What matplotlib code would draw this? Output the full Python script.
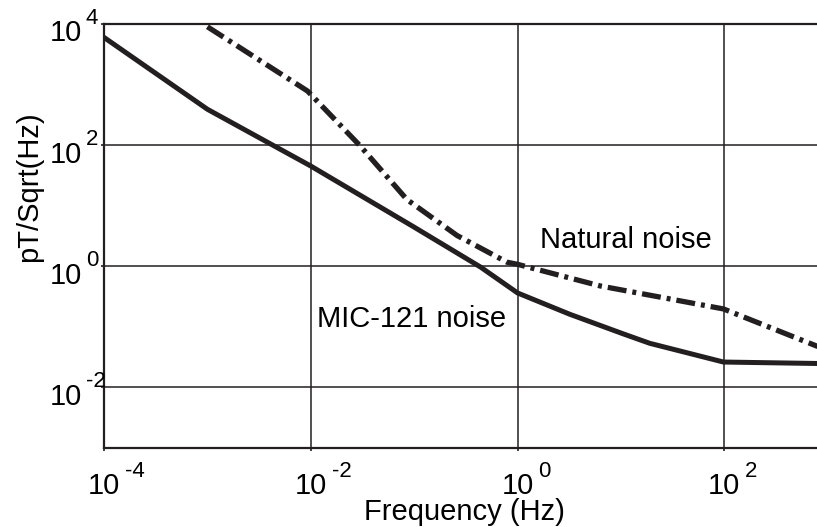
"""Noise spectra of the MIC-121 sensor against natural noise, log-log plot."""
import matplotlib

matplotlib.use("Agg")
import matplotlib.pyplot as plt
import matplotlib.transforms as mtransforms

# data (Hz, pT/sqrt(Hz))
mic_freq = [1e-4, 1e-3, 1e-2, 1e-1, 0.44, 1.0, 3.2, 10.5, 19.0, 98.0, 800.0]
mic_noise = [6000, 390, 45, 4.4, 0.96, 0.36, 0.16, 0.076, 0.053, 0.026, 0.0246]

nat_freq = [1e-3, 9.3e-3, 3.0e-2, 8.5e-2, 0.26, 0.79, 1.0, 6.3, 98.0, 800.0]
nat_noise = [9000, 780, 97, 12.6, 3.2, 1.16, 1.07, 0.47, 0.196, 0.047]

x_ticks = [1e-4, 1e-2, 1e0, 1e2]
x_exponents = ["-4", "-2", "0", "2"]
y_ticks = [1e-2, 1e0, 1e2, 1e4]
y_exponents = ["-2", "0", "2", "4"]


def main():
    ink = "#231f20"
    plt.rcParams["font.family"] = ["Liberation Sans", "DejaVu Sans"]

    fig = plt.figure(figsize=(8.17, 5.27), dpi=100)
    ax = fig.add_axes([0.1273, 0.1505, 0.8727, 0.804])

    ax.plot(mic_freq, mic_noise, color=ink, linewidth=3.6,
            solid_joinstyle="round")
    ax.plot(nat_freq, nat_noise, color=ink, linewidth=3.8,
            linestyle=(0, (3.6, 1.13, 0.75, 1.13)))

    ax.set_xscale("log")
    ax.set_yscale("log")
    ax.set_xlim(1e-4, 10 ** 2.896)
    ax.set_ylim(1e-3, 10 ** 3.957)

    # tick labels: base "10" as tick label, exponent as separate text
    ax.set_xticks(x_ticks)
    ax.set_xticklabels(["10"] * len(x_ticks))
    ax.set_yticks(y_ticks)
    ax.set_yticklabels(["10"] * len(y_ticks))
    ax.minorticks_off()

    ax.grid(True, color=ink, linewidth=1.1)
    ax.set_axisbelow(True)
    for name, spine in ax.spines.items():
        spine.set_color(ink)
        spine.set_linewidth(1.6)
    ax.spines["right"].set_visible(False)

    ax.tick_params(axis="x", length=2, width=1.2, color=ink, pad=15.5,
                   labelsize=21, labelcolor="black")
    ax.tick_params(axis="y", length=2, width=1.2, color=ink, pad=13.7,
                   labelsize=21, labelcolor="black")

    y_shift = mtransforms.ScaledTranslation(0, -6.5 / 100, fig.dpi_scale_trans)
    for lab in ax.get_yticklabels():
        lab.set_transform(lab.get_transform() + y_shift)

    for tick, expo in zip(x_ticks, x_exponents):
        ax.annotate(expo, xy=(tick, 0), xycoords=("data", "axes fraction"),
                    xytext=(15, -21), textcoords="offset points",
                    ha="left", va="baseline", fontsize=16)
    for tick, expo in zip(y_ticks, y_exponents):
        ax.annotate(expo, xy=(0, tick), xycoords=("axes fraction", "data"),
                    xytext=(-13, 0), textcoords="offset points",
                    ha="left", va="baseline", fontsize=16,
                    annotation_clip=False)

    ax.set_xlabel("Frequency (Hz)", fontsize=21)
    ax.xaxis.set_label_coords(0.505, -0.118)
    ax.set_ylabel("pT/Sqrt(Hz)", fontsize=21)
    ax.yaxis.set_label_coords(-0.0856, 0.616)

    ax.text(1.65, 1.98, "Natural noise", fontsize=21, ha="left",
            va="baseline")
    ax.text(0.0115, 0.1, "MIC-121 noise", fontsize=21, ha="left",
            va="baseline")

    fig.savefig("out.png", dpi=100)


if __name__ == "__main__":
    main()
